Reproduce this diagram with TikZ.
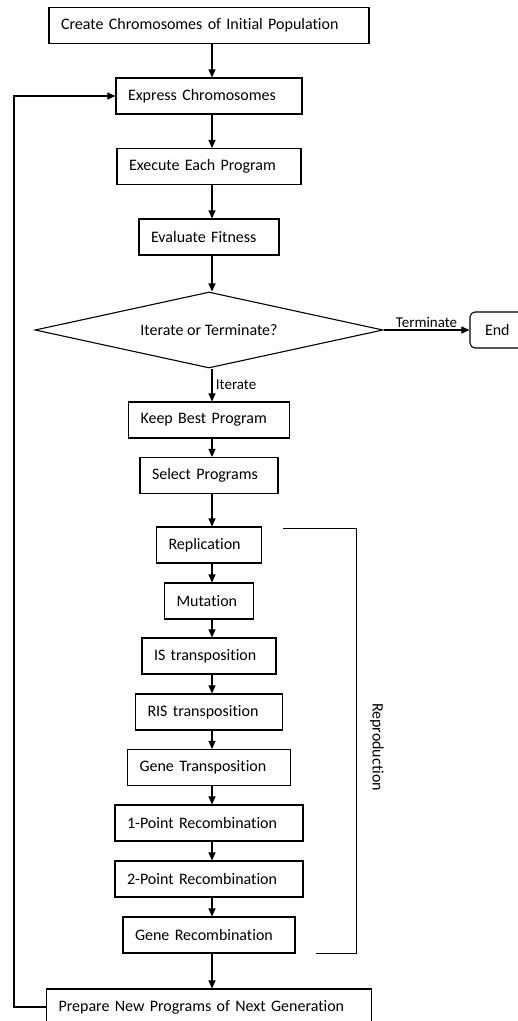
\documentclass[tikz,border=0pt]{standalone}
\usepackage{fontspec}
\setmainfont{Carlito}[Ligatures=NoCommon]
\usetikzlibrary{arrows.meta,shapes.geometric}
\begin{document}
\begin{tikzpicture}[x=1pt, y=-1pt, >={Triangle[length=8pt,width=7pt]}, line width=1.1pt,
    every node/.style={font=\fontsize{16}{19}\selectfont},
    box/.style={draw, minimum height=36pt, inner xsep=12pt, inner ysep=0pt, align=left, text width=#1-24pt}]
				% 画布
				\useasboundingbox (0,0) rectangle (518,1021);
				\clip (0,0) rectangle (518,1021);
				\coordinate (spine) at (212,0);
				\coordinate (loop) at (14,0);
				
				% 主流程
				\node[box=320pt] (create) at (209,25.5) {Create Chromosomes of Initial Population};
				\node[box=186pt] (express) at (209,96) {Express Chromosomes};
				\node[box=184pt] (execute) at (209,166.5) {Execute Each Program};
				\node[box=140pt] (evaluate) at (209,237) {Evaluate Fitness};
				\node[draw, diamond, aspect=4.58, minimum width=348pt, minimum height=76pt, inner sep=0pt] (decide) at (209,330) {Iterate or Terminate?};
				\node[draw, rounded corners=5pt, minimum height=36pt, inner xsep=15pt, text width=40pt, align=left] (stop) at (505,330) {End};
				\node[box=161pt] (keep) at (209,420) {Keep Best Program};
				\node[box=138pt] (select) at (209,475.5) {Select Programs};
				
				% 繁殖算子
				\node[box=105pt] (repl) at (209,545) {Replication};
				\node[box=89pt] (mut) at (209,601) {Mutation};
				\node[box=134pt] (istr) at (209,656) {IS transposition};
				\node[box=147pt] (ristr) at (209,712) {RIS transposition};
				\node[box=163pt] (genetr) at (209,767.5) {Gene Transposition};
				\node[box=188pt] (onept) at (209,823) {1-Point Recombination};
				\node[box=188pt] (twopt) at (209,879) {2-Point Recombination};
				\node[box=172pt] (generc) at (209,935) {Gene Recombination};
				\node[box=325pt] (prep) at (209,1007) {Prepare New Programs of Next Generation};
				
				% 箭头
				\foreach \a/\b in {create/express, express/execute, execute/evaluate, evaluate/decide,
				    keep/select, select/repl, repl/mut, mut/istr, istr/ristr, ristr/genetr,
				    genetr/onept, onept/twopt, twopt/generc, generc/prep}
				    \draw[->] (\a.south -| spine) -- (\b.north -| spine);
				\draw[->] (decide.south -| spine) -- node[right, font=\fontsize{15}{18}\selectfont] {Iterate} (keep.north -| spine);
				\draw[->] (decide.east) -- node[above, font=\fontsize{15}{18}\selectfont, yshift=-1pt] {Terminate} (stop.west);
				
				% 回路
				\draw[->] (prep.west) -| (loop |- express.west) -- (express.west);
				
				% 括号
				\draw ([xshift=21pt, yshift=-2pt]repl.north east) -- ++(73,0) coordinate (brk) |- ([xshift=20pt]generc.south east);
				\node[rotate=-90] (repro) at (377,747) {Reproduction};
			\end{tikzpicture}
\end{document}
